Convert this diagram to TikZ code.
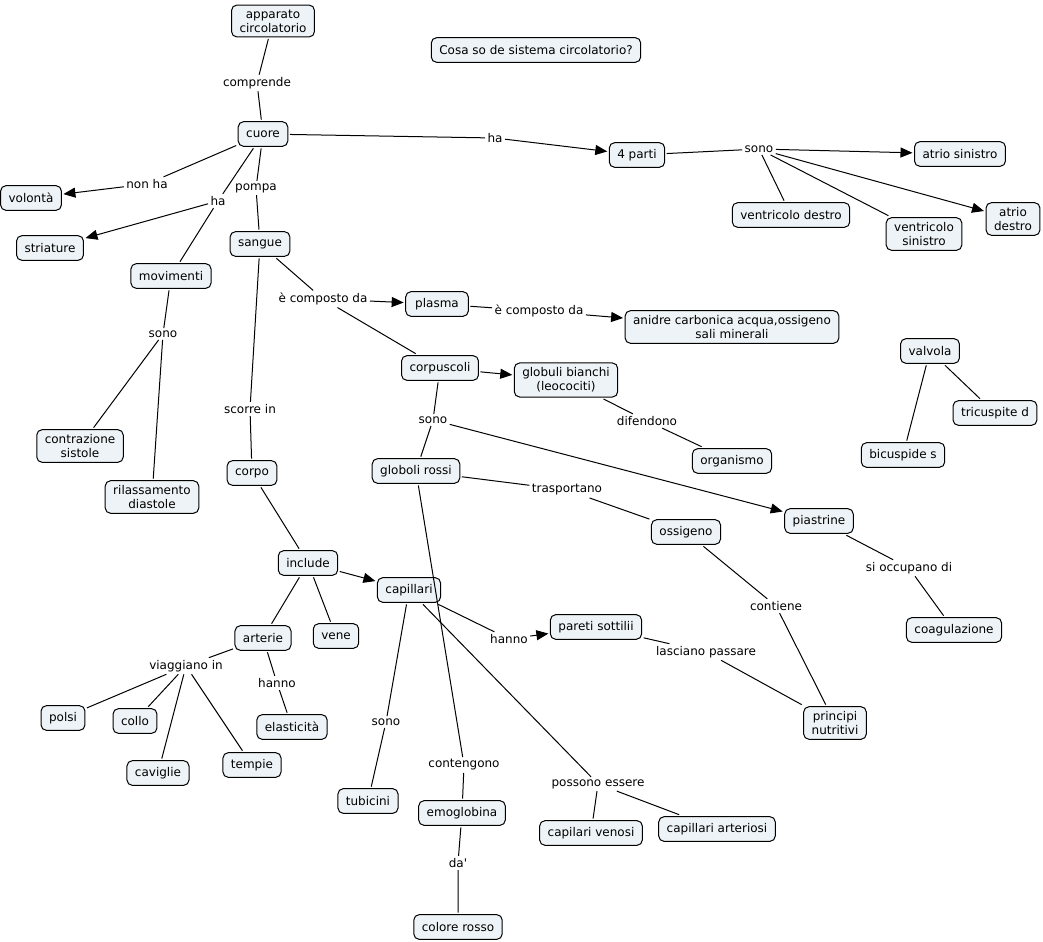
\documentclass[tikz,border=0pt]{standalone}
\usepackage{fontspec}
\setmainfont{DejaVu Sans}
\usetikzlibrary{arrows.meta}
\definecolor{concfill}{RGB}{237,243,246}

\begin{document}
\begin{tikzpicture}[x=0.75pt,y=-0.75pt,line width=0.75pt,
  font=\fontsize{9}{10.5}\selectfont,
  concetto/.style={draw,fill=concfill,rounded corners=4pt,align=center,
    inner xsep=6pt,inner ysep=3.5pt,minimum height=18.5pt,outer sep=1.5pt},
  frase/.style={inner sep=1.5pt},
  freccia/.style={-{Triangle[length=9pt,width=7.5pt]}}]
\useasboundingbox (0,0) rectangle (1043,942);

% concetti
\node[concetto] (apparato) at (273,21) {apparato\\circolatorio};
\node[concetto] (domanda) at (536,50) {Cosa so de sistema circolatorio?};
\node[concetto] (cuore) at (263,134) {cuore};
\node[concetto] (parti) at (637,155) {4 parti};
\node[concetto] (atriosin) at (960,154) {atrio sinistro};
\node[concetto] (ventrdes) at (791,215) {ventricolo destro};
\node[concetto] (ventrsin) at (924,234) {ventricolo\\sinistro};
\node[concetto] (atriodes) at (1013,219) {atrio\\destro};
\node[concetto] (volonta) at (31,198) {volontà};
\node[concetto] (striature) at (50,248) {striature};
\node[concetto] (sangue) at (260,244) {sangue};
\node[concetto] (movimenti) at (171,276) {movimenti};
\node[concetto,minimum width=47pt] (plasma) at (437,304) {plasma};
\node[concetto] (anidre) at (732,327) {anidre carbonica acqua,ossigeno\\sali minerali};
\node[concetto] (corpuscoli) at (440,368) {corpuscoli};
\node[concetto] (bianchi) at (566,380) {globuli bianchi\\(leocociti)};
\node[concetto] (valvola) at (930,351) {valvola};
\node[concetto] (tricuspite) at (995,413) {tricuspite d};
\node[concetto] (bicuspide) at (903,455) {bicuspide s};
\node[concetto] (contrazione) at (80,446) {contrazione\\sistole};
\node[concetto] (rilassamento) at (152,497) {rilassamento\\diastole};
\node[concetto] (organismo) at (732,461) {organismo};
\node[concetto] (corpo) at (252,473) {corpo};
\node[concetto] (rossi) at (416,471) {globoli rossi};
\node[concetto] (piastrine) at (819,521) {piastrine};
\node[concetto] (ossigeno) at (686,532) {ossigeno};
\node[concetto] (include) at (308,563) {include};
\node[concetto] (capillari) at (409,590) {capillari};
\node[concetto] (pareti) at (596,627) {pareti sottilii};
\node[concetto] (arterie) at (263,638) {arterie};
\node[concetto] (vene) at (336,636) {vene};
\node[concetto] (coagulazione) at (954,630) {coagulazione};
\node[concetto] (polsi) at (63,718) {polsi};
\node[concetto] (collo) at (135,721) {collo};
\node[concetto] (elasticita) at (292,727) {elasticità};
\node[concetto] (principi) at (835,723) {principi\\nutritivi};
\node[concetto] (caviglie) at (158,773) {caviglie};
\node[concetto] (tempie) at (252,765) {tempie};
\node[concetto] (tubicini) at (368,801) {tubicini};
\node[concetto] (emoglobina) at (462,813) {emoglobina};
\node[concetto] (venosi) at (591,833) {capilari venosi};
\node[concetto] (arteriosi) at (717,829) {capillari arteriosi};
\node[concetto] (rosso) at (458,927) {colore rosso};

% frasi di collegamento
\node[frase] (lcomprende) at (257,83) {comprende};
\node[frase] (lha) at (495,138) {ha};
\node[frase] (lsono) at (759,149) {sono};
\node[frase] (lnonha) at (147,184) {non ha};
\node[frase] (lha2) at (218,201) {ha};
\node[frase] (lpompa) at (256,188) {pompa};
\node[frase] (lcomposto) at (323,299) {è composto da};
\node[frase] (lcomposto2) at (539,311) {è composto da};
\node[frase] (lsono2) at (163,334) {sono};
\node[frase] (lscorre) at (250,409) {scorre in};
\node[frase] (lsono3) at (433,420) {sono};
\node[frase] (ldifendono) at (647,421) {difendono};
\node[frase] (ltrasportano) at (567,490) {trasportano};
\node[frase] (loccupano) at (909,568) {si occupano di};
\node[frase] (lcontiene) at (776,606) {contiene};
\node[frase] (lhanno) at (509,639) {hanno};
\node[frase] (llasciano) at (706,652) {lasciano passare};
\node[frase] (lviaggiano) at (186,666) {viaggiano in};
\node[frase] (lhanno2) at (277,683) {hanno};
\node[frase] (lsono4) at (386,722) {sono};
\node[frase] (lcontengono) at (464,765) {contengono};
\node[frase] (lpossono) at (598,784) {possono essere};
\node[frase] (lda) at (458,863) {da\textquotesingle};

% cuore
\draw (apparato) -- (lcomprende) -- (cuore);
\draw (cuore) -- (lha);
\draw[freccia] (lha) -- (parti);
\draw (parti) -- (lsono);
\draw[freccia] (lsono) -- (atriosin);
\draw (lsono) -- (ventrdes);
\draw (lsono) -- (ventrsin);
\draw[freccia] (lsono) -- (atriodes);
\draw (cuore) -- (lnonha);
\draw[freccia] (lnonha) -- (volonta);
\draw (cuore) -- (lha2);
\draw[freccia] (lha2) -- (striature);
\draw (lha2) -- (movimenti);
\draw (movimenti) -- (lsono2);
\draw (lsono2) -- (contrazione);
\draw (lsono2) -- (rilassamento);
\draw (cuore) -- (lpompa) -- (sangue);

% sangue
\draw (sangue) -- (lcomposto);
\draw[freccia] (lcomposto) -- (plasma);
\draw (lcomposto) -- (corpuscoli);
\draw (plasma) -- (lcomposto2);
\draw[freccia] (lcomposto2) -- (anidre);
\draw[freccia] (corpuscoli) -- (bianchi);
\draw (bianchi) -- (ldifendono) -- (organismo);
\draw (corpuscoli) -- (lsono3) -- (rossi);
\draw[freccia] (lsono3) -- (piastrine);
\draw (rossi) -- (ltrasportano) -- (ossigeno);
\draw (rossi) -- (lcontengono) -- (emoglobina);
\draw (emoglobina) -- (lda) -- (rosso);
\draw (piastrine) -- (loccupano) -- (coagulazione);
\draw (ossigeno) -- (lcontiene) -- (principi);
\draw (valvola) -- (bicuspide);
\draw (valvola) -- (tricuspite);

% corpo
\draw (sangue) -- (lscorre) -- (corpo);
\draw (corpo) -- (include);
\draw[freccia] (include) -- (capillari);
\draw (include) -- (arterie);
\draw (include) -- (vene);
\draw (capillari) -- (lhanno);
\draw[freccia] (lhanno) -- (pareti);
\draw (pareti) -- (llasciano) -- (principi);
\draw (capillari) -- (lsono4) -- (tubicini);
\draw (capillari) -- (lpossono);
\draw (lpossono) -- (venosi);
\draw (lpossono) -- (arteriosi);
\draw (arterie) -- (lviaggiano);
\draw (lviaggiano) -- (polsi);
\draw (lviaggiano) -- (collo);
\draw (lviaggiano) -- (caviglie);
\draw (lviaggiano) -- (tempie);
\draw (arterie) -- (lhanno2) -- (elasticita);

\end{tikzpicture}
\end{document}
